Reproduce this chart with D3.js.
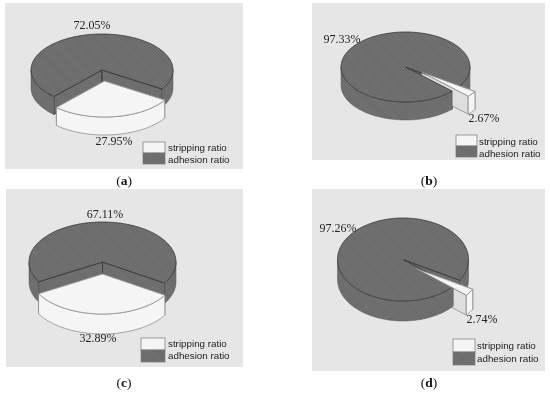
<!DOCTYPE html>
<html><head><meta charset="utf-8">
<script src="https://cdnjs.cloudflare.com/ajax/libs/d3/7.8.5/d3.min.js"></script>
<style>html,body{margin:0;padding:0;background:#fff}svg{display:block;filter:blur(0.4px)}</style>
</head><body><div id="c"></div>
<script>
const panelNames = ["a","b","c","d"];
const seriesNames = ["stripping ratio","adhesion ratio"];
const strippingValues = [27.95,2.67,32.89,2.74];
const adhesionValues = [72.05,97.33,67.11,97.26];

const layout = [
 {rect:[5,3,243,169],cx:102,cy:70,rx:71,ry:36,d:18,start:122,off:[2.5,11],
  big:[92,29],small:[114,145],cap:[124,185],lg:[143,142,22,11,168,151,163]},
 {rect:[312,3,545,160],cx:405.5,cy:67,rx:64.5,ry:35,d:18,start:124,off:[16,5],
  big:[342,43],small:[484,122],cap:[429,185],lg:[456,135,21,11,479,145,157]},
 {rect:[6,189,243,367],cx:102.5,cy:262,rx:73.5,ry:40,d:20,start:122,off:[0,12],
  big:[105,218],small:[98,342],cap:[124,387],lg:[141,338,24,12,168,347,359]},
 {rect:[312,189,545,371],cx:403,cy:259.5,rx:65.5,ry:41.5,d:20,start:120,off:[13,9],
  big:[338,232],small:[482,323],cap:[429,387],lg:[453,339,22,13,477,349,362]}
];

const svg = d3.select("#c").append("svg").attr("width",550).attr("height",393);
const pat = svg.append("defs").append("pattern").attr("id","hatch")
  .attr("width",2).attr("height",2).attr("patternUnits","userSpaceOnUse")
  .attr("patternTransform","rotate(45)");
pat.append("rect").attr("width",2).attr("height",2).attr("fill","#7a7a7a");
pat.append("rect").attr("width",2).attr("height",1).attr("fill","#626262");

const WHITE="#f5f5f5", SHADE="#dedede", EDGE="#8a8a8a", LINE="#333";
const line = d3.line();
const rad = d=>d*Math.PI/180;
const TWO_PI = 2*Math.PI;
const FRONT = [Math.PI/2,3*Math.PI/2];
const FRONT_NEXT = [Math.PI/2+TWO_PI,3*Math.PI/2+TWO_PI];

panelNames.forEach((name,i)=>{
  const L = layout[i];
  const g = svg.append("g");
  const R=L.rect;
  g.append("rect").attr("x",R[0]).attr("y",R[1]).attr("width",R[2]-R[0]).attr("height",R[3]-R[1]).attr("fill","#e6e6e6");

  const pie = d3.pie().sort(null).startAngle(rad(L.start)).endAngle(rad(L.start)+TWO_PI);
  const [sW,sD] = pie([strippingValues[i],adhesionValues[i]]);
  const P = (a,dx=0,dy=0)=>[L.cx+dx+L.rx*Math.sin(a), L.cy+dy-L.ry*Math.cos(a)];

  function wall(s,range,dx,dy,fill,stroke,sw){
    const a0=Math.max(s.startAngle,range[0]), a1=Math.min(s.endAngle,range[1]);
    if(a1<=a0) return;
    const as=d3.range(a0,a1,0.02).concat([a1]);
    const top=as.map(a=>P(a,dx,dy));
    const bot=as.map(a=>P(a,dx,dy+L.d)).reverse();
    g.append("path").attr("d",line(top.concat(bot))+"Z").attr("fill",fill).attr("stroke",stroke).attr("stroke-width",sw);
  }
  function radial(a,dx,dy,fill,stroke,sw){
    const c=[L.cx+dx,L.cy+dy], p=P(a,dx,dy);
    g.append("path").attr("d",line([c,p,[p[0],p[1]+L.d],[c[0],c[1]+L.d]])+"Z")
      .attr("fill",fill).attr("stroke",stroke).attr("stroke-width",sw);
  }
  function top(s,dx,dy,fill,stroke,sw){
    const as=d3.range(s.startAngle,s.endAngle,0.02).concat([s.endAngle]);
    const pts=[[L.cx+dx,L.cy+dy]].concat(as.map(a=>P(a,dx,dy)));
    g.append("path").attr("d",line(pts)+"Z").attr("fill",fill).attr("stroke",stroke).attr("stroke-width",sw);
  }
  const [ox,oy]=L.off;
  // back: cut faces of the adhesion body and the part of its rim right of the gap
  radial(sD.startAngle,0,0,"url(#hatch)",LINE,0.8);
  radial(sD.endAngle,0,0,"url(#hatch)",LINE,0.8);
  wall(sD,FRONT_NEXT,0,0,"url(#hatch)","#555",0.5);
  // stripping slice's cut faces
  radial(sW.startAngle,ox,oy,SHADE,EDGE,0.8);
  radial(sW.endAngle,ox,oy,SHADE,EDGE,0.8);
  // adhesion rim left of the gap and its top
  wall(sD,FRONT,0,0,"url(#hatch)","#555",0.5);
  top(sD,0,0,"url(#hatch)",LINE,0.8);
  // stripping slice front and top
  wall(sW,FRONT,ox,oy,WHITE,EDGE,0.8);
  top(sW,ox,oy,WHITE,EDGE,0.8);

  const serif="'Liberation Serif',serif", sans="'Liberation Sans',sans-serif";
  const label=(p,v)=>g.append("text").attr("x",p[0]).attr("y",p[1]).attr("text-anchor","middle")
    .attr("font-family",serif).attr("font-size",12).attr("fill","#222").text(v.toFixed(2)+"%");
  label(L.big,adhesionValues[i]);
  label(L.small,strippingValues[i]);

  const cap=g.append("text").attr("x",L.cap[0]).attr("y",L.cap[1]).attr("text-anchor","middle")
    .attr("font-family",serif).attr("font-size",13.5).attr("fill","#111");
  cap.append("tspan").text("(");
  cap.append("tspan").attr("font-weight","bold").text(name);
  cap.append("tspan").text(")");

  const [lx,ly,lw,lh,tx,t1,t2]=L.lg;
  seriesNames.forEach((n,k)=>{
    g.append("rect").attr("x",lx).attr("y",ly+k*lh).attr("width",lw).attr("height",lh)
      .attr("fill",k?"url(#hatch)":WHITE).attr("stroke","#777").attr("stroke-width",0.7);
    g.append("text").attr("x",tx).attr("y",k?t2:t1).attr("font-family",sans).attr("font-size",9.8)
      .attr("fill","#222").text(n);
  });
});
</script></body></html>
